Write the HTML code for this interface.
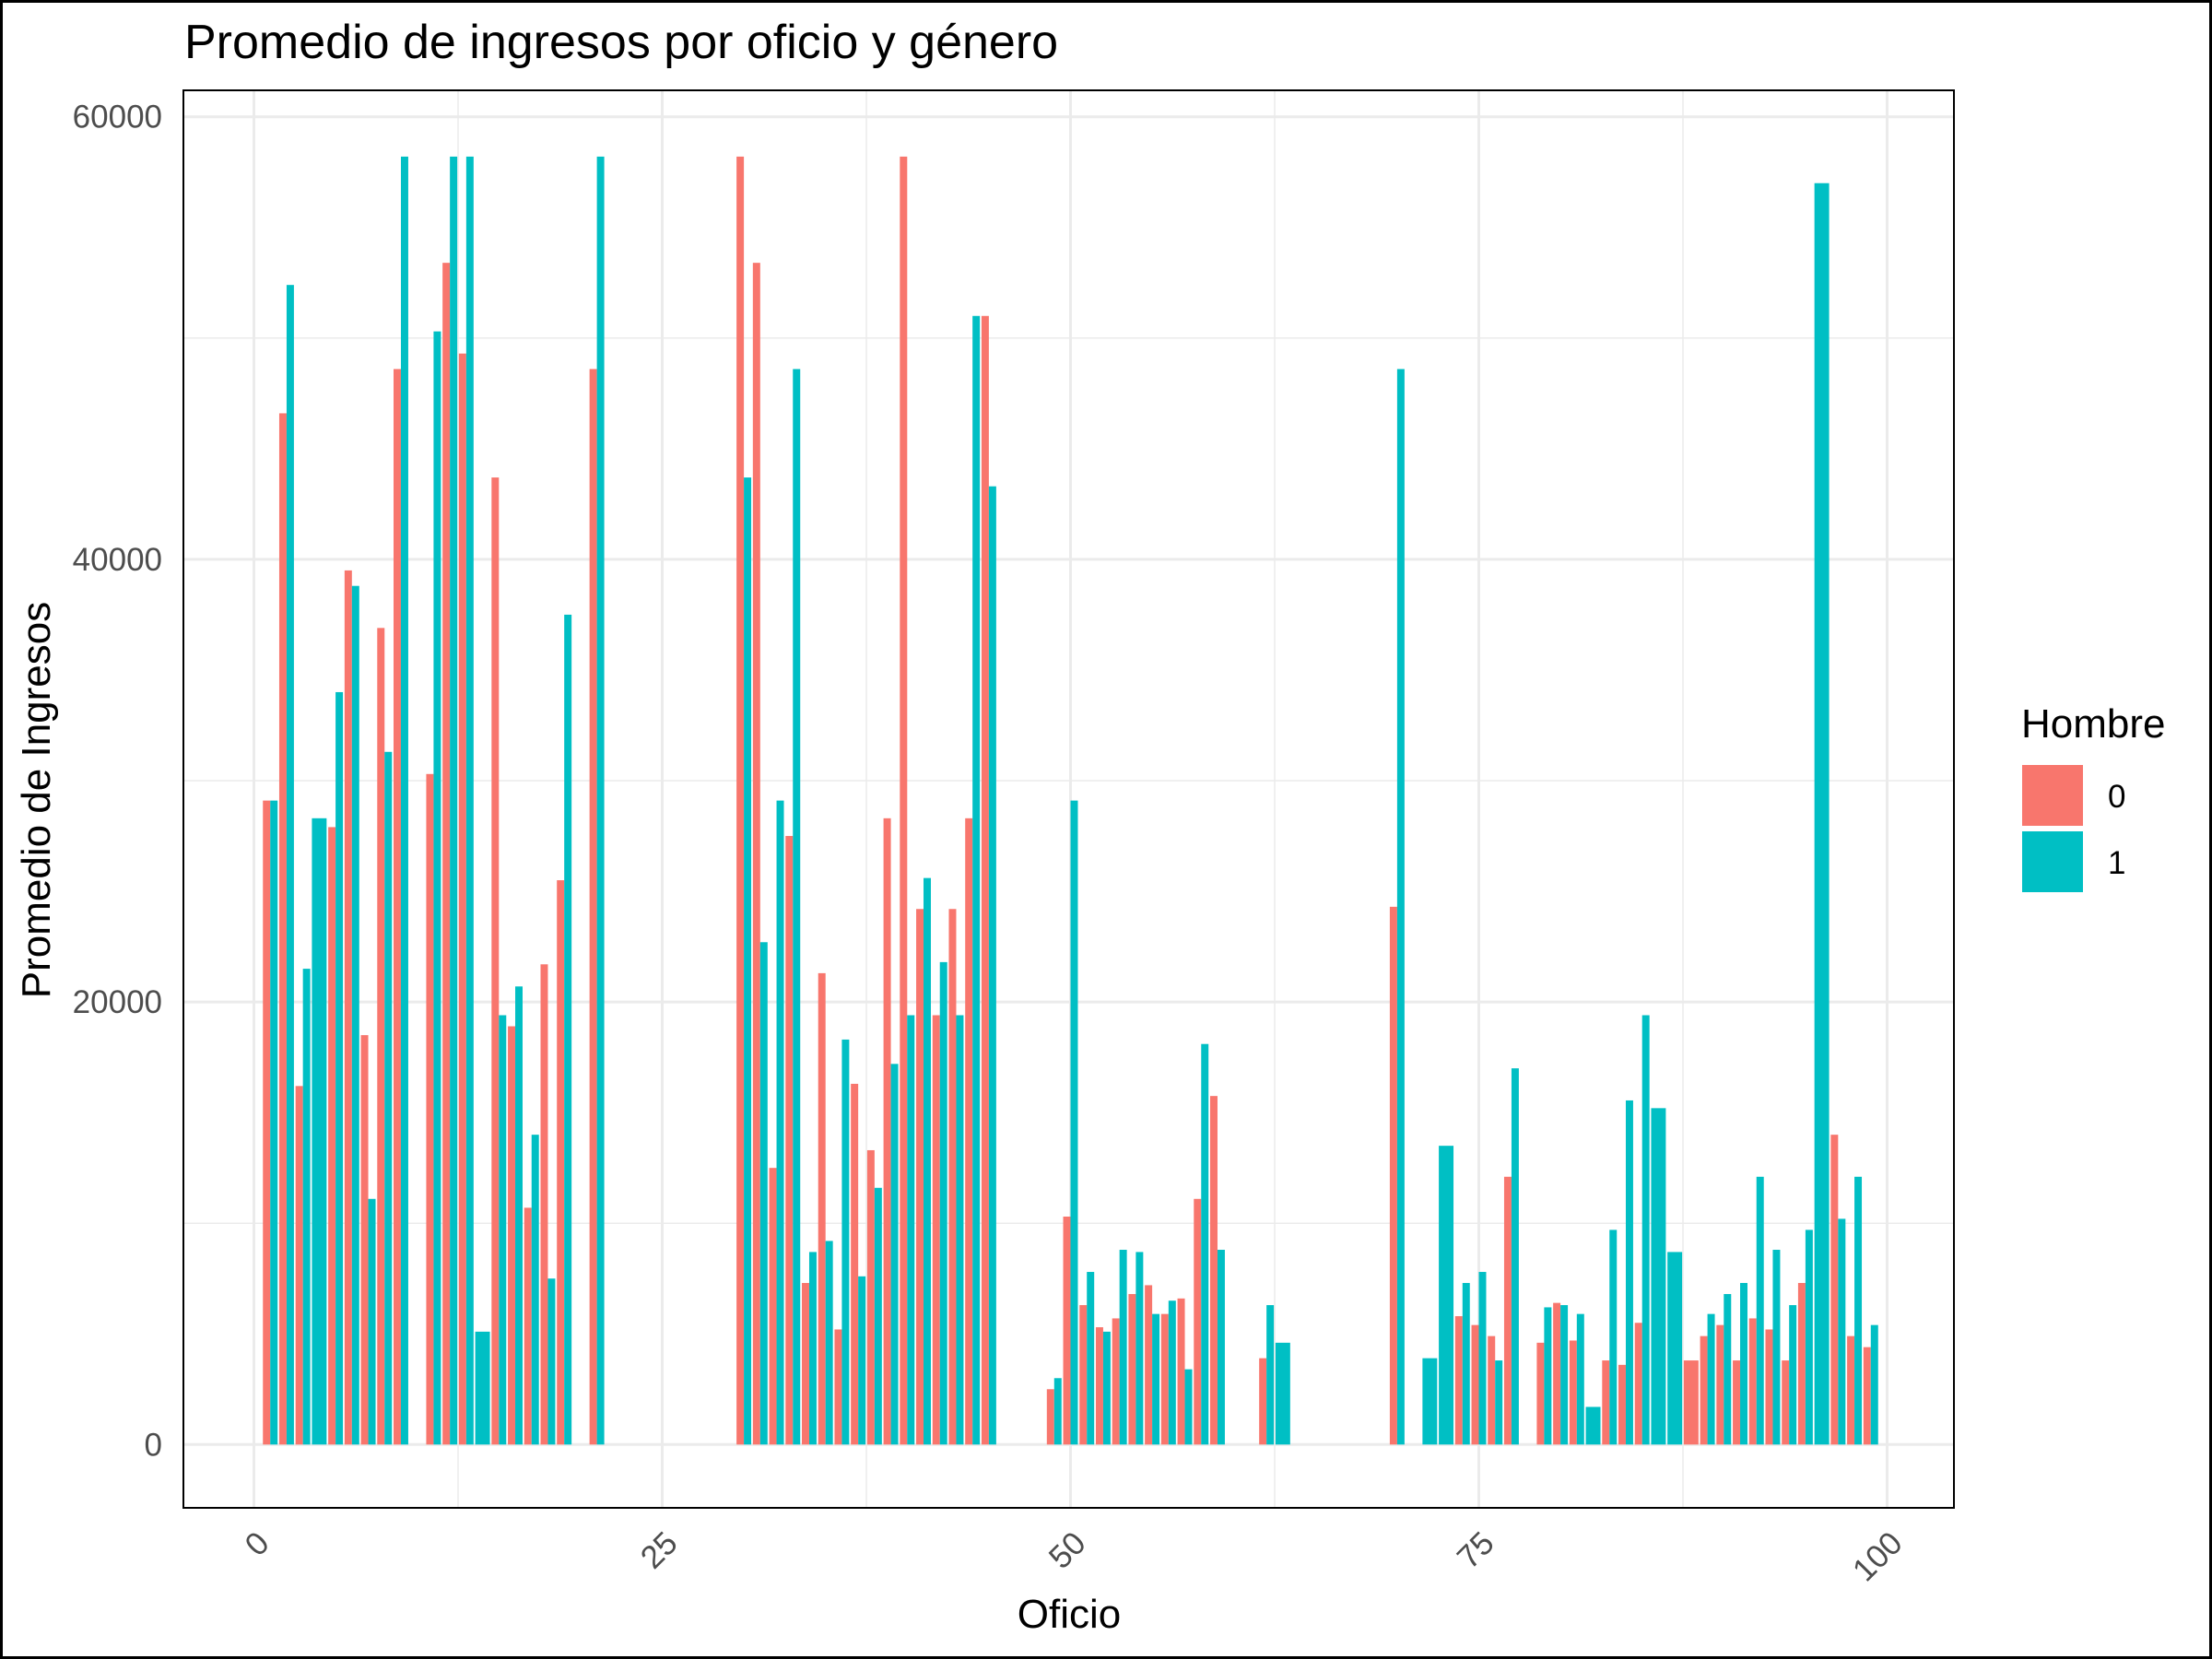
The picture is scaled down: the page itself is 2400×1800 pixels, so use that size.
<!DOCTYPE html>
<html><head><meta charset="utf-8"><style>
html,body{margin:0;padding:0;background:#fff;}
svg{display:block;font-family:"Liberation Sans",Arial,sans-serif;}
</style></head><body>
<svg id="chart" width="2400" height="1800" viewBox="0 0 2400 1800" xmlns="http://www.w3.org/2000/svg">
<rect x="0" y="0" width="2400" height="1800" fill="#fff"/>
<rect x="1.5" y="1.5" width="2397" height="1797" fill="none" stroke="#000" stroke-width="3"/>
<text x="200" y="63" font-size="52" fill="#000">Promedio de ingresos por oficio y género</text>
<g id="grid"></g>
<g id="bars"></g>
<rect x="199" y="98" width="1921" height="1538" fill="none" stroke="#000" stroke-width="2"/>
<g id="yticks"></g>
<g id="xticks"></g>
<text x="1160" y="1766" font-size="44" text-anchor="middle" fill="#000">Oficio</text>
<text transform="translate(54,868) rotate(-90)" font-size="44" text-anchor="middle" fill="#000">Promedio de Ingresos</text>
<g>
<text x="2193" y="800" font-size="44" fill="#000">Hombre</text>
<rect x="2194" y="830" width="66" height="66" fill="#F8766D"/>
<text x="2287" y="876" font-size="35" fill="#000">0</text>
<rect x="2194" y="902" width="66" height="66" fill="#00BFC4"/>
<text x="2287" y="948" font-size="35" fill="#000">1</text>
</g>
</svg>
<script>
const categories = [1,2,3,4,5,6,7,8,9,11,12,13,14,15,16,17,18,19,21,30,31,32,33,34,35,36,37,38,39,40,41,42,43,44,45,49,50,51,52,53,54,55,56,57,58,59,62,63,70,72,73,74,75,76,77,79,80,81,82,83,84,85,86,87,88,89,90,91,92,93,94,95,96,97,98,99];
const ingresoHombre0 = [29100,46600,16200,null,27900,39500,18500,36900,48600,30300,53400,49300,null,43700,18900,10700,21700,25500,48600,58200,53400,12500,27500,7300,21300,5200,16300,13300,28300,58200,24200,19400,24200,28300,51000,2500,10300,6300,5300,5700,6800,7200,5900,6600,11100,15750,3900,null,24300,null,null,5800,5400,4900,12100,4600,6400,4700,null,3800,3600,5500,null,null,3800,4900,5400,3800,5700,5200,3800,7300,null,14000,4900,4400];
const ingresoHombre1 = [29100,52400,21500,28300,34000,38800,11100,31300,58200,50300,58200,58200,5100,19400,20700,14000,7500,37500,58200,43700,22700,29100,48600,8700,9200,18300,7600,11600,17200,19400,25600,21800,19400,51000,43300,3000,29100,7800,5100,8800,8700,5900,6500,3400,18100,8800,6300,4600,48600,3900,13500,7300,7800,3800,17000,6200,6300,5900,1700,9700,15550,19400,15200,8700,null,5900,6800,7300,12100,8800,6300,9700,57000,10200,12100,5400];
const yTicks = [0,20000,40000,60000];
const yMinor = [10000,30000,50000];
const xTicks = [0,25,50,75,100];
const xMinor = [12.5,37.5,62.5,87.5];

const NS = "http://www.w3.org/2000/svg";
const PX0 = 199, PX1 = 2120, PY0 = 98, PY1 = 1636;
function xs(v){ return 275.5 + v * 17.72; }
function ys(v){ return 1567.3 - v * (1567.3 - 126.7) / 60000; }
function mk(tag, attrs, parent){
  const el = document.createElementNS(NS, tag);
  for (const k in attrs) el.setAttribute(k, attrs[k]);
  parent.appendChild(el);
  return el;
}
const grid = document.getElementById('grid');
yMinor.forEach(v => {
  const l = mk('line', {x1:PX0, x2:PX1, y1:ys(v), y2:ys(v), stroke:'#ebebeb', 'stroke-width':1.5}, grid);
  
  
});
xMinor.forEach(v => {
  const l = mk('line', {x1:xs(v), x2:xs(v), y1:PY0, y2:PY1, stroke:'#ebebeb', 'stroke-width':1.5}, grid);
  
  
});
yTicks.forEach(v => {
  const l = mk('line', {x1:PX0, x2:PX1, y1:ys(v), y2:ys(v), stroke:'#ebebeb', 'stroke-width':3}, grid);
  
  
});
xTicks.forEach(v => {
  const l = mk('line', {x1:xs(v), x2:xs(v), y1:PY0, y2:PY1, stroke:'#ebebeb', 'stroke-width':3}, grid);
  
  
});
const bars = document.getElementById('bars');
const W = 0.45;
categories.forEach((c, i) => {
  const a = ingresoHombre0[i], b = ingresoHombre1[i];
  const both = a != null && b != null;
  if (a != null) {
    const x0 = both ? xs(c - W) : xs(c - W);
    const x1 = both ? xs(c) : xs(c + W);
    const r = mk('rect', {x:x0, y:ys(a), width:x1 - x0, height:ys(0) - ys(a), fill:'#F8766D'}, bars);
    
    
  }
  if (b != null) {
    const x0 = both ? xs(c) : xs(c - W);
    const x1 = xs(c + W);
    const r = mk('rect', {x:x0, y:ys(b), width:x1 - x0, height:ys(0) - ys(b), fill:'#00BFC4'}, bars);
    
    
  }
});
const yt = document.getElementById('yticks');
yTicks.forEach(v => {
  const t = mk('text', {x:176, y:ys(v) + 12, 'text-anchor':'end', 'font-size':35, fill:'#4d4d4d'}, yt);
  t.textContent = String(v);
  
  
});
const xt = document.getElementById('xticks');
xTicks.forEach(v => {
  const ax = xs(v) + 10, ay = 1668;
  const t = mk('text', {x:ax, y:ay + 12, 'text-anchor':'end', 'font-size':35, fill:'#4d4d4d', transform:'rotate(-45 ' + ax + ' ' + ay + ')'}, xt);
  t.textContent = String(v);
  
  
});
</script>
</body></html>
